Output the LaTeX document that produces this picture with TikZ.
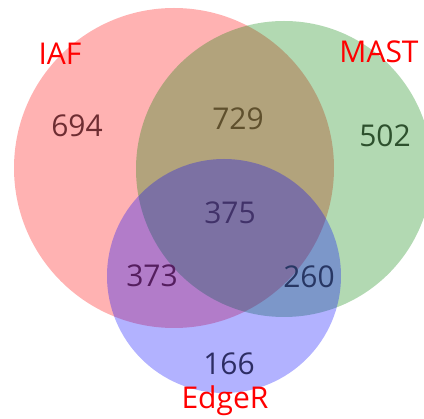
\documentclass[tikz,border=0pt]{standalone}
\usepackage{fontspec}
\setmainfont{Open Sans}
\usepackage{tikz}
\definecolor{mastgreen}{RGB}{0,128,0}
% text colours of the region counts
\definecolor{c694}{RGB}{110,45,50}
\definecolor{c729}{RGB}{95,80,45}
\definecolor{c502}{RGB}{45,80,45}
\definecolor{c375}{RGB}{65,50,105}
\definecolor{c373}{RGB}{85,30,95}
\definecolor{c260}{RGB}{40,55,100}
\definecolor{c166}{RGB}{45,45,100}
\tikzset{
  setfill/.style={fill=#1,fill opacity=0.3,draw=none},
  setlabel/.style={text=red,font=\fontsize{30}{36}\selectfont},
  count/.style={font=\fontsize{30}{36}\selectfont}
}

\begin{document}
\begin{tikzpicture}[x=1pt,y=-1pt]
        \useasboundingbox (0,0) rectangle (424,419);
        \clip (0,0) rectangle (424,419);
        % the three sets
        \fill[setfill=red] (174,168) circle[radius=160pt];
        \fill[setfill=mastgreen] (284,169) circle[radius=148pt];
        \fill[setfill=blue] (224,276) circle[radius=117pt];
        % set names
        \node[setlabel] (iaf) at (60,54) {IAF};
        \node[setlabel] (mast) at (379,52) {MAST};
        \node[setlabel] (edger) at (225,401) {EdgeR};
        % counts of each region
        \foreach \name/\x/\y/\n in {onlyiaf/77/126/694, iafmast/238/119/729,
            onlymast/385/136/502, all/230/213/375, iafedger/152/276/373,
            mastedger/309/277/260, onlyedger/229/364/166}
        \node[count,text=c\n] (\name) at (\x,\y) {\n};
\end{tikzpicture}
\end{document}
